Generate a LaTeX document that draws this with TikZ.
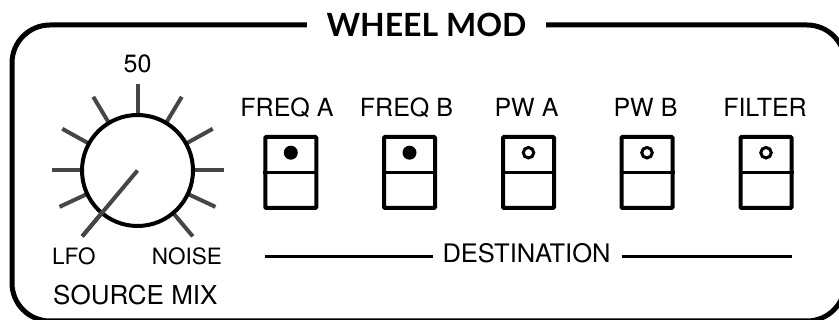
\documentclass[tikz,border=0pt]{standalone}
\usepackage{fontspec}
\usetikzlibrary{calc}
\setmainfont{TeX Gyre Heros}
\newfontfamily\titlefont{Lato}
\definecolor{tickgray}{HTML}{4A4444}
\begin{document}
\begin{tikzpicture}[x=1pt,y=-1pt,
  lbl/.style={font=\fontsize{25}{25}\selectfont, inner sep=0pt, anchor=base},
  small/.style={lbl, font=\fontsize{22.5}{22.5}\selectfont},
  big/.style={lbl, font=\fontsize{26}{26}\selectfont},
  frameline/.style={line width=5pt},
  tickline/.style={line width=4pt, draw=tickgray},
  swbox/.style={draw, line width=4pt, rounded corners=1pt, minimum width=51pt, minimum height=71pt, inner sep=0pt},
  ledon/.style={circle, fill=black, minimum size=14pt, inner sep=0pt},
  ledoff/.style={circle, draw=black, line width=3pt, minimum size=10.5pt, inner sep=0pt},
  destline/.style={line width=3pt}]
\useasboundingbox (0,0) rectangle (839,320);
\clip (0,0) rectangle (839,320);
% frame
\draw[frameline, rounded corners=38pt] (12,25) rectangle (845,321);
% title
\node[fill=white, inner xsep=20pt, inner ysep=4pt, font=\titlefont\bfseries\fontsize{32}{32}\selectfont] (title) at (426.5,25) {WHEEL MOD};
% knob
\coordinate (kc) at (137.5,170.5);
\foreach \a in {90,59,29,0,-25,-50,121,151,180,205,230}
  \draw[tickline] (kc) ++(\a:55pt) -- ++(\a:31pt);
\node[circle, draw, line width=4pt, fill=white, minimum size=111pt, inner sep=0pt] (knob) at (kc) {};
\coordinate (ptr) at ($(kc)+(230:86pt)$);
\draw[tickline] (knob.center) -- (ptr);
\node[lbl] (fifty) at (137.5,73) {50};
\node[small, anchor=base west] (lfo) at (52,264.5) {LFO};
\node[small, anchor=base east] (noise) at (222,264.5) {NOISE};
\node[big, anchor=base west] (srcmix) at (53,305) {SOURCE MIX};
% switches
\foreach \n/\x/\lx/\lab/\on in {a/290.8/287/FREQ A/1, b/409.5/406.5/FREQ B/1, c/528.5/526.5/PW A/0, d/647/645.5/PW B/0, e/766/765/FILTER/0}{
  \node[lbl] (l\n) at (\lx,117) {\lab};
  \node[swbox] (s\n) at (\x,172.5) {};
  \draw[line width=3.5pt] (s\n.west) -- (s\n.east);
  \ifnum\on=1
    \node[ledon] (d\n) at (\x,152.7) {};
  \else
    \node[ledoff] (d\n) at (\x,152.7) {};
  \fi
}
% destination
\node[lbl, font=\fontsize{25.5}{25.5}\selectfont] (dest) at (526.5,263) {DESTINATION};
\coordinate (dl) at (265,256.7);
\coordinate (dr) at (792,256.7);
\draw[destline] (dl) -- ([xshift=-9pt]dest.west |- dl);
\draw[destline] ([xshift=11pt]dest.east |- dr) -- (dr);
\end{tikzpicture}
\end{document}
